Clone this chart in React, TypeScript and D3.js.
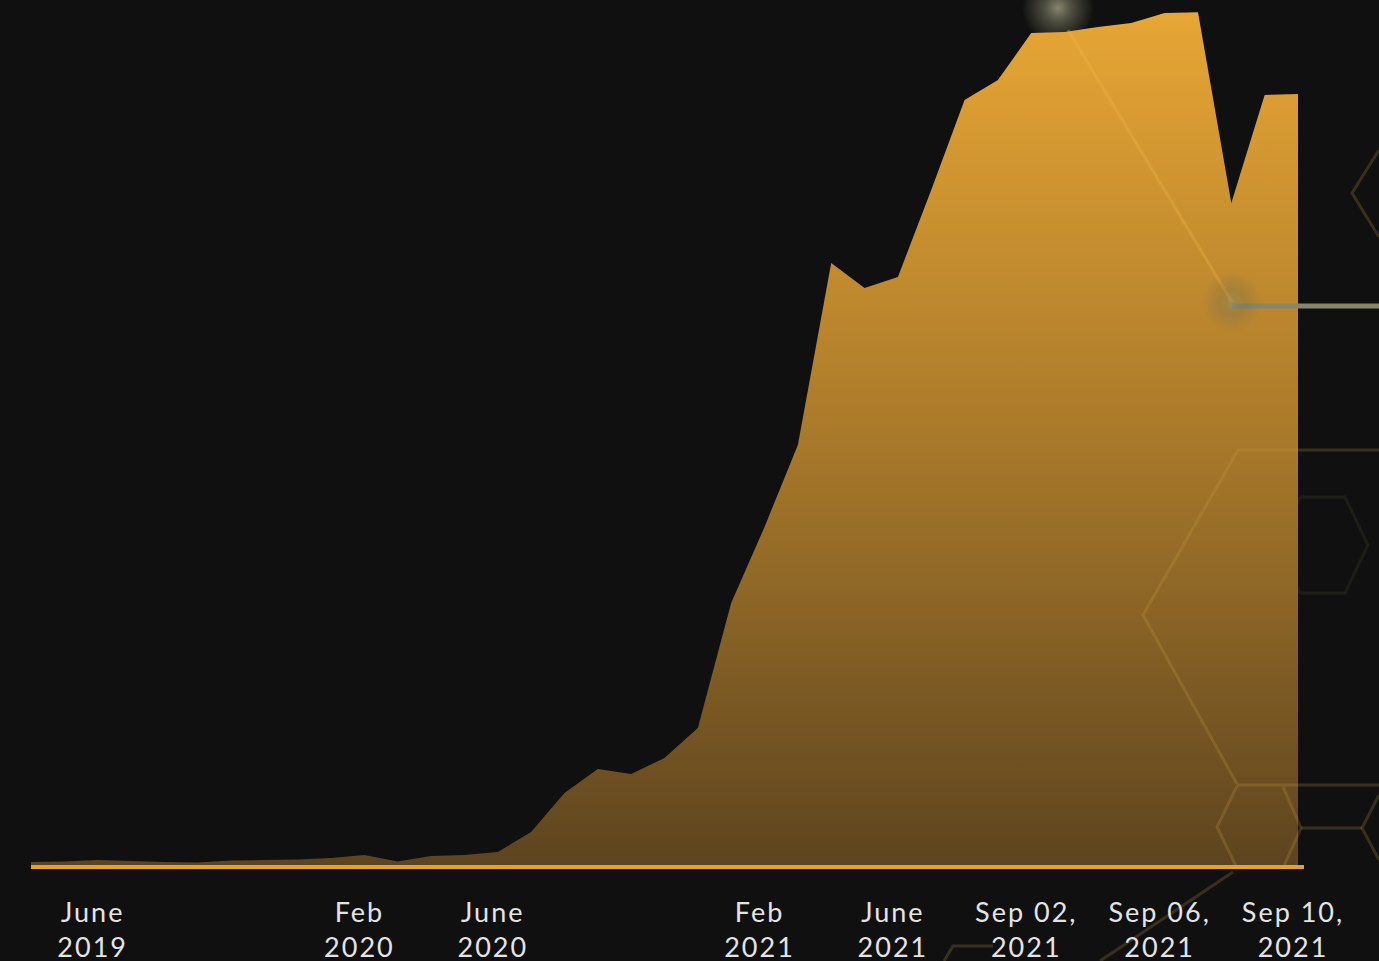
import { useEffect, useRef } from "react";
import * as d3 from "d3";

// monthly points, then daily points for early September 2021
const categories = [
  "2019-04", "2019-05", "2019-06", "2019-07", "2019-08", "2019-09", "2019-10", "2019-11", "2019-12",
  "2020-01", "2020-02", "2020-03", "2020-04", "2020-05", "2020-06", "2020-07", "2020-08", "2020-09",
  "2020-10", "2020-11", "2020-12",
  "2021-01", "2021-02", "2021-03", "2021-04", "2021-05", "2021-06", "2021-07", "2021-08",
  "2021-09-01", "2021-09-02", "2021-09-03", "2021-09-04", "2021-09-05",
  "2021-09-06", "2021-09-07", "2021-09-08", "2021-09-09", "2021-09-10",
];

const values = [
  0.47, 0.53, 0.7, 0.59, 0.47, 0.41, 0.64, 0.7, 0.76,
  0.94, 1.29, 0.53, 1.17, 1.29, 1.64, 3.99, 8.56, 11.37,
  10.79, 12.66, 16.18,
  30.83, 39.74, 49.36, 70.69, 67.76, 69.05, 79.25, 89.8,
  92.15, 97.65, 97.77, 98.36, 98.83,
  100, 100.1, 77.73, 90.39, 90.5,
];

const tickCategories = ["2019-06", "2020-02", "2020-06", "2021-02", "2021-06", "2021-09-02", "2021-09-06", "2021-09-10"];
const tickTop = ["June", "Feb", "June", "Feb", "June", "Sep 02,", "Sep 06,", "Sep 10,"];
const tickBottom = ["2019", "2020", "2020", "2021", "2021", "2021", "2021", "2021"];

// background hexagon ornaments
const decoLines = [
  "M1237,450 L1379,450",
  "M1237,452 L1143,615 L1237,784",
  "M1237,785 L1379,785",
  "M1237,786 L1217,827 L1237,868",
  "M1283,787 L1301,828 L1283,868",
  "M1301,828 L1362,828",
  "M1379,795 L1362,828 L1379,860",
  "M1379,150 L1352,193 L1379,237",
  "M1233,872 L1100,961",
  "M993,946 L953,946 L944,961",
];
const faintLines = [
  "M1300,497 L1345,497 L1368,545 L1345,593 L1300,593",
  "M1300,497 L1278,545 L1300,593",
];

export default function App() {
  const ref = useRef(null);

  useEffect(() => {
    const width = 1379;
    const height = 961;
    const svg = d3.select(ref.current);
    svg.selectAll("*").remove();

    const x = d3.scalePoint().domain(categories).range([31, 1298]);
    const y = d3.scaleLinear().domain([0, 100]).range([866, 13]);

    const defs = svg.append("defs");
    const grad = defs
      .append("linearGradient")
      .attr("id", "areaFill")
      .attr("gradientUnits", "userSpaceOnUse")
      .attr("x1", 0)
      .attr("y1", y(100))
      .attr("x2", 0)
      .attr("y2", y(0));
    grad.append("stop").attr("offset", "0%").attr("stop-color", "#e7a635");
    grad.append("stop").attr("offset", "50%").attr("stop-color", "#a9792a");
    grad.append("stop").attr("offset", "100%").attr("stop-color", "#5d441f");

    const glow = defs.append("radialGradient").attr("id", "glow");
    glow.append("stop").attr("offset", "0%").attr("stop-color", "#8c8c72").attr("stop-opacity", 0.95);
    glow.append("stop").attr("offset", "45%").attr("stop-color", "#6a6a55").attr("stop-opacity", 0.6);
    glow.append("stop").attr("offset", "100%").attr("stop-color", "#6a6a55").attr("stop-opacity", 0);

    const blur = defs.append("filter").attr("id", "blur").attr("x", "-20%").attr("y", "-300%").attr("width", "140%").attr("height", "700%");
    blur.append("feGaussianBlur").attr("stdDeviation", 3);

    svg.append("rect").attr("width", width).attr("height", height).attr("fill", "#101010");

    // ornaments behind the chart
    svg
      .append("g")
      .selectAll("path")
      .data(faintLines)
      .join("path")
      .attr("d", (d) => d)
      .attr("fill", "none")
      .attr("stroke", "#1e1e19")
      .attr("stroke-width", 3);

    svg
      .append("circle")
      .attr("cx", 1058)
      .attr("cy", 8)
      .attr("r", 36)
      .attr("fill", "url(#glow)");

    const area = d3
      .area<number>()
      .x((d, i) => x(categories[i]))
      .y0(y(0))
      .y1((d) => y(d));

    svg.append("path").datum(values).attr("d", area).attr("fill", "url(#areaFill)");

    // ornaments over the chart
    svg
      .append("g")
      .selectAll("path")
      .data(decoLines)
      .join("path")
      .attr("d", (d) => d)
      .attr("fill", "none")
      .attr("stroke", "#c8a24a")
      .attr("stroke-opacity", 0.22)
      .attr("stroke-width", 3);

    svg
      .append("line")
      .attr("x1", 1068)
      .attr("y1", 30)
      .attr("x2", 1232)
      .attr("y2", 302)
      .attr("stroke", "#f3bb4c")
      .attr("stroke-opacity", 0.3)
      .attr("stroke-width", 3);

    svg
      .append("line")
      .attr("x1", 1222)
      .attr("y1", 306)
      .attr("x2", 1379)
      .attr("y2", 306)
      .attr("stroke", "#75755d")
      .attr("stroke-width", 12)
      .attr("stroke-opacity", 0.7)
      .attr("filter", "url(#blur)");
    svg
      .append("line")
      .attr("x1", 1232)
      .attr("y1", 306)
      .attr("x2", 1379)
      .attr("y2", 306)
      .attr("stroke", "#86866b")
      .attr("stroke-width", 5);

    svg
      .append("circle")
      .attr("cx", 1232)
      .attr("cy", 302)
      .attr("r", 30)
      .attr("fill", "url(#glow)")
      .attr("opacity", 0.45);

    svg
      .append("line")
      .attr("x1", 31)
      .attr("x2", 1304)
      .attr("y1", y(0) + 1)
      .attr("y2", y(0) + 1)
      .attr("stroke", "#e3a131")
      .attr("stroke-width", 4);

    const labels = svg
      .append("g")
      .attr("font-family", "Lato, 'Noto Sans', sans-serif")
      .attr("font-size", 27)
      .attr("letter-spacing", 2)
      .attr("fill", "#e4e4e4")
      .attr("text-anchor", "middle")
      .selectAll("text")
      .data(tickCategories)
      .join("text")
      .attr("transform", (d) => `translate(${x(d) - 5},0)`);

    labels
      .append("tspan")
      .attr("x", 0)
      .attr("y", 922)
      .text((d, i) => tickTop[i]);
    labels
      .append("tspan")
      .attr("x", 0)
      .attr("y", 957)
      .text((d, i) => tickBottom[i]);
  }, []);

  return (
    <svg
      ref={ref}
      width={1379}
      height={961}
      style={{ position: "fixed", top: 0, left: 0, display: "block" }}
    />
  );
}
